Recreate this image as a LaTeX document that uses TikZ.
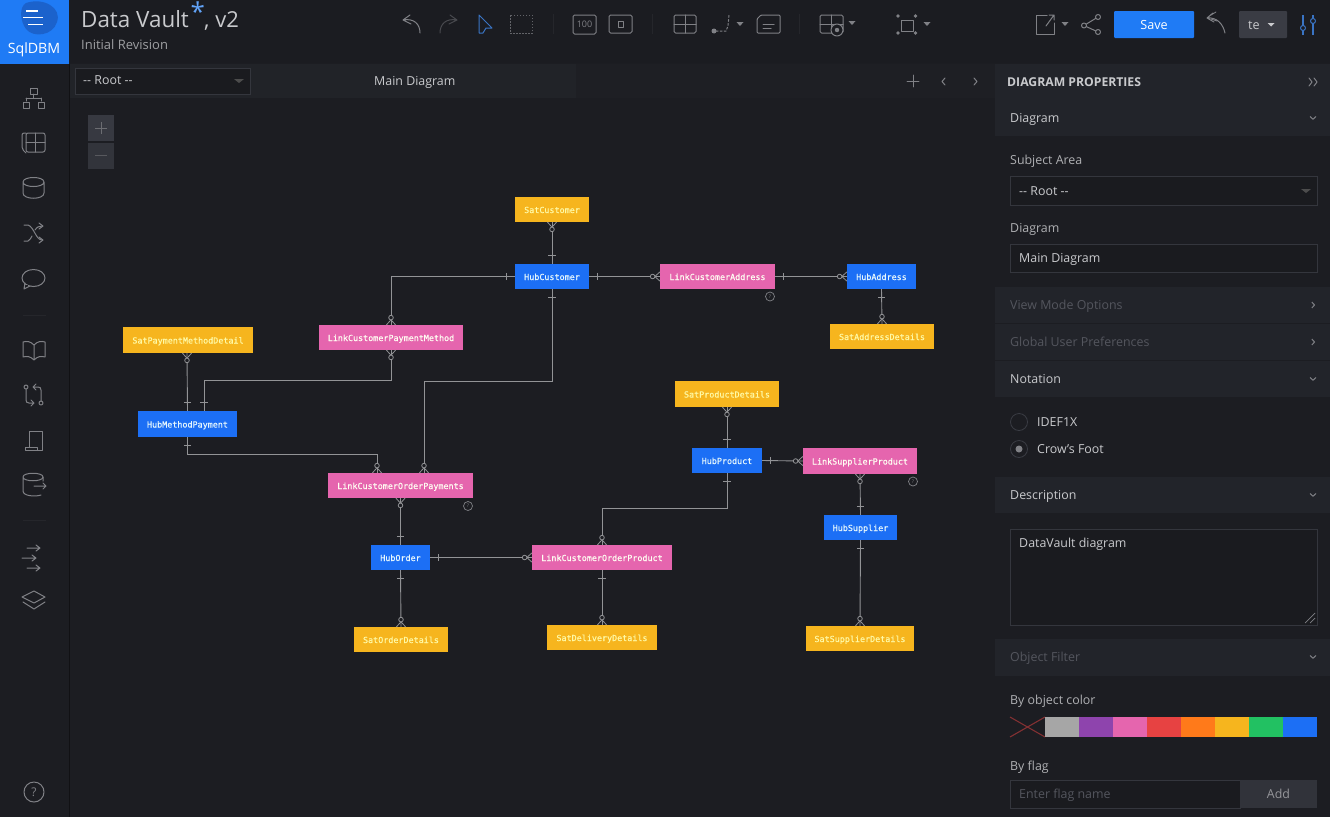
\documentclass[tikz,border=0pt]{standalone}
\usepackage{fontspec}
\setmainfont{Open Sans}
\newfontfamily\entfont[FakeBold=0.35]{DejaVu Sans Mono}
\usetikzlibrary{calc,arrows.meta,shapes.geometric}
\definecolor{bgmain}{HTML}{1C1D22}
\definecolor{bgbar}{HTML}{1B1C21}
\definecolor{bgtab}{HTML}{212328}
\definecolor{bghead}{HTML}{22242A}
\definecolor{bgfield}{HTML}{1A1B1F}
\definecolor{bordr}{HTML}{3A3C44}
\definecolor{fline}{HTML}{34363D}
\definecolor{ink}{HTML}{C9CACD}
\definecolor{inkdim}{HTML}{54565E}
\definecolor{icon}{HTML}{808186}
\definecolor{icondim}{HTML}{48494E}
\definecolor{sepc}{HTML}{25262B}
\definecolor{brand}{HTML}{1F7BF5}
\definecolor{branddk}{HTML}{1B62CC}
\definecolor{iconblue}{HTML}{3A74C4}
\definecolor{hubc}{HTML}{1C6FF5}
\definecolor{satc}{HTML}{F6B51E}
\definecolor{lnkc}{HTML}{E565AE}
\definecolor{relc}{HTML}{929396}
\definecolor{swgray}{HTML}{A6A6A6}
\definecolor{swpurple}{HTML}{8E44AD}
\definecolor{swred}{HTML}{E74242}
\definecolor{sworange}{HTML}{FF7A1A}
\definecolor{swgreen}{HTML}{22C162}
\tikzset{
 ent/.style={draw=none,inner sep=0,font=\entfont\fontsize{8.4}{10}\selectfont,text height=7pt,text depth=0pt,anchor=center},
 hub/.style={ent,fill=hubc,text=white!90!cyan},
 sat/.style={ent,fill=satc,text=white!65!yellow},
 lnk/.style={ent,fill=lnkc,text=white!95!yellow},
 rel/.style={draw=relc,line width=0.9pt},
 crowmany/.pic={\draw[rel,line width=0.8pt] (5,0)--(0,4.5) (5,0)--(0,-4.5);\draw[rel,line width=0.8pt,fill=bgmain] (7.2,0) circle (2.3);},
 onebar/.pic={\draw[rel,line width=0.8pt] (8,-3.7)--(8,3.7);},
 ui/.style={anchor=base west,inner sep=0,text=ink,font=\fontsize{12.4}{15}\selectfont},
 uidim/.style={ui,text=inkdim},
 field/.style={draw=fline,fill=bgfield,line width=0.7pt},
 ic/.style={draw=icon,line width=1pt,line cap=round,line join=round},
 icd/.style={draw=icondim,line width=1pt,line cap=round,line join=round},
 ib/.style={draw=iconblue,line width=1pt,line join=round},
 caret/.style={fill=icon,draw=none},
}
\newcommand{\entity}[7]{\node[#1,minimum width=#4pt,minimum height=#5pt] (#2) at (#3) {#6#7};}
\newcommand{\caretat}[2]{\fill[caret] (#1-3.5,#2-2)--(#1+3.5,#2-2)--(#1,#2+2)--cycle;}
\newcommand{\chevdown}[2]{\draw[draw=icon,line width=1pt] (#1-3,#2-1.5)--(#1,#2+1.2)--(#1+3,#2-1.5);}
\newcommand{\chevright}[2]{\draw[draw=icon,line width=1pt] (#1-1.2,#2-3)--(#1+1.5,#2)--(#1-1.2,#2+3);}
\begin{document}
\begin{tikzpicture}[x=1pt,y=-1pt]
\useasboundingbox (0,0) rectangle (1330,817);
\fill[bgmain] (0,0) rectangle (1330,817);
% bars
\fill[bgbar] (0,0) rectangle (1330,63);
\fill[bgtab] (69,64) rectangle (995,98);
\fill[bgmain!60!bgtab] (576,64) rectangle (995,98);
\draw[draw=black!40!bgmain,line width=0.6pt] (69,64)--(69,817);
\draw[draw=black!40!bgmain,line width=0.6pt] (995,64)--(995,817);
% logo
\fill[brand] (0,0) rectangle (69,64);
\fill[branddk] (26,3) .. controls (44,-3) and (62,8) .. (57,22) .. controls (53,36) and (33,38) .. (26,29) .. controls (20,21) and (19,7) .. (26,3) -- cycle;
\draw[draw=white,line width=1.2pt] (26,11)--(38,11) (23,17.5)--(43,17.5) (28,24.5)--(43,24.5);
\node[anchor=base,inner sep=0,text=white,font=\fontsize{14.2}{16}\selectfont] (logotext) at (34,53) {SqlDBM};
\node[ui,text=ink,font=\fontsize{22.4}{26}\selectfont] (title) at (81,27) {Data Vault};
\node[anchor=base west,inner sep=0,text=brand!70!white,font=\fontsize{26}{26}\selectfont] (star) at (190.5,21) {*};
\node[ui,font=\fontsize{22}{26}\selectfont] (titlev) at (204,27) {, v2};
\node[ui,text=ink!75!bgmain,font=\fontsize{13}{15}\selectfont] (revision) at (81,49) {Initial Revision};
% tab row
\draw[field] (75,68) rectangle (250,94);
\node[ui] (rootA) at (83,84) {-{}- Root -{}-};
\fill[black!70] (234,79)--(244,79)--(239,83)--cycle;
\node[ui] (maintab) at (374,85) {Main Diagram};
\draw[ic,line width=0.9pt] (913,75)--(913,87) (907,81)--(919,81);
\draw[ic] (945,78)--(942,81.5)--(945,85);
\draw[ic] (974,78)--(977,81.5)--(974,85);
% toolbar
\draw[ic] (403,20)--(410,15) (403,20)--(411,24) (403,20) .. controls (414,18) and (420,24) .. (420,33);
\draw[icd] (457,20)--(450,15) (457,20)--(449,24) (457,20) .. controls (446,18) and (440,24) .. (440,33);
\draw[ib] (479,15)--(492,28)--(486,28)--(483,33)--(479,33)--cycle;
\draw[draw=icon!70!bgbar,dash pattern=on 1.5pt off 1.5pt,line width=1pt] (510,15) rectangle (532,33);
\draw[draw=sepc] (553,14)--(553,34);
\draw[ic,rounded corners=1.5pt] (573,15) rectangle (596,34);
\node[anchor=center,inner sep=0,text=icon,font=\fontsize{9}{10}\selectfont] (i100) at (584.5,24.5) {100};
\draw[ic,rounded corners=1.5pt] (609,15) rectangle (632,33);
\draw[ic,line width=0.9pt] (618,21) rectangle (623,27);
\draw[draw=sepc] (652,14)--(652,34);
\draw[ic,rounded corners=1.5pt] (674,15) rectangle (696,33);
\draw[ic] (685,15)--(685,33) (674,24)--(696,24);
\fill[icon] (714,31) circle (2.5);
\draw[ic,dash pattern=on 2pt off 2pt] (716,31)--(726,31)--(728,26)--(729,15);
\caretat{740}{24}
\draw[ic,rounded corners=1pt] (761,15)--(780,15)--(780,33)--(757,33)--(757,19)--cycle;
\draw[ic] (763,24)--(774,24) (763,28)--(771,28);
\draw[draw=sepc] (799,14)--(799,34);
\draw[ic,rounded corners=1.5pt] (820,15) rectangle (843,33);
\draw[ic] (831,15)--(831,33) (820,24)--(843,24);
\draw[ic,fill=bgbar] (837,30) circle (6);
\fill[icon] (837,30) circle (2.2);
\caretat{852}{23}
\draw[ic] (901,20) rectangle (913,31);
\fill[icon] (898,16) circle (1.8) (915.5,16) circle (1.8) (898,33) circle (1.8) (915.5,33) circle (1.8);
\caretat{927}{24}
\draw[ic] (1047,15)--(1036,15)--(1036,34)--(1054,34)--(1054,23);
\draw[ic] (1046,26)--(1054,15) (1049,15)--(1054,15)--(1054,20);
\caretat{1065}{24}
\draw[ic] (1098,17)--(1084,25.5)--(1098,32);
\draw[ic,fill=bgbar] (1098,17) circle (2.5) (1084,25.5) circle (2.5) (1098,32) circle (2.5);
\node[fill=brand,text=white,inner sep=0,minimum width=80pt,minimum height=27pt,rounded corners=1pt,font=\fontsize{12.6}{15}\selectfont] (savebtn) at (1154,24.5) {Save};
\draw[ic] (1207,18)--(1213,13) (1207,18)--(1214,22) (1207,18) .. controls (1217,17) and (1223,24) .. (1225,33);
\draw[ic,line width=0.8pt] (1211,15)--(1216,12) (1211,19)--(1217,21);
\node[fill=bordr,inner sep=0,minimum width=48pt,minimum height=27pt,rounded corners=1pt] (tebtn) at (1263,24.5) {};
\node[ui,font=\fontsize{12.6}{15}\selectfont] (telabel) at (1248,29) {te};
\fill[ink] (1267.5,23)--(1274.5,23)--(1271,26.5)--cycle;
\draw[ib,line width=1.1pt] (1303,15)--(1303,35) (1313,15)--(1313,35);
\draw[ib,fill=bgbar] (1303,28) circle (2.5) (1313,21) circle (2.5);
% sidebar
\draw[ic] (30,88) rectangle (37,94) (33.5,94)--(33.5,98) (26,98)--(41,98) (26,98)--(26,101) (41,98)--(41,101) (23,102) rectangle (29,108) (38,102) rectangle (44,108);
\draw[ic,rounded corners=2pt] (26,133) rectangle (45,152);
\draw[ic] (35.5,133)--(35.5,152) (26,142.5)--(45,142.5);
\draw[ic,rounded corners=2pt] (26,133)--(22,133)--(22,149)--(26,153);
\draw[ic] (23,182) .. controls (23,176) and (44,176) .. (44,182) .. controls (44,188) and (23,188) .. (23,182) -- (23,193) .. controls (23,200) and (44,200) .. (44,193) -- (44,182);
\draw[ic] (24,225)--(28,225) .. controls (34,227) and (36,240) .. (42,240);
\draw[ic] (24,241)--(28,241) .. controls (30,240) and (31,238) .. (32,236) (35,230) .. controls (37,227) and (39,226) .. (42,226);
\draw[ic] (39,223)--(43,226)--(39,229) (39,237)--(43,240)--(39,243);
\draw[ic] (33.5,278) ellipse (11.5 and 8.5);
\fill[bgmain] (24,285) rectangle (28,289);
\draw[ic] (25,283)--(24,289)--(30,286);
\draw[draw=sepc,line width=0.6pt] (23,315)--(46,315) (23,520)--(46,520);
\draw[ic] (34,345)--(34,360) .. controls (30,356) and (27,356) .. (23,357) -- (23,342) .. controls (27,341) and (30,341) .. (34,345) .. controls (38,341) and (41,341) .. (45,342) -- (45,357) .. controls (41,356) and (38,356) .. (34,360);
\draw[ic] (26,387) circle (2) (41,403) circle (2);
\draw[ic] (26,389)--(26,400) .. controls (26,402) and (27,403) .. (29,403) -- (34,403) (31,400)--(34,403)--(31,406);
\draw[ic] (41,401)--(41,390) .. controls (41,388) and (40,387) .. (38,387) -- (33,387) (36,384)--(33,387)--(36,390);
\draw[ic] (29,447)--(29,431)--(42,431)--(42,450)--(25,450)--(25,447)--(37,447)--(37,450);
\draw[ic] (23,477) .. controls (23,472) and (43,472) .. (43,477) .. controls (43,482) and (23,482) .. (23,477) -- (23,491) .. controls (23,496) and (35,497) .. (41,495);
\draw[ic] (43,477)--(43,481) (34,486)--(46,486) (43,483)--(46,486)--(43,489);
\draw[ic] (27,548)--(40,548) (36,545)--(40,548)--(36,551) (22,558)--(36,558) (32,555)--(36,558)--(32,561) (27,568)--(40,568) (36,565)--(40,568)--(36,571);
\draw[ic] (34,591)--(45,597)--(34,603)--(22,597)--cycle;
\draw[ic] (23,602)--(34,609)--(45,602);
\draw[ic] (34,792) circle (10);
\node[anchor=center,inner sep=0,text=icon,font=\fontsize{12}{14}\selectfont] (helpmark) at (34,792) {?};
% zoom buttons
\fill[bordr!90!bgmain] (88,115) rectangle (114,141);
\fill[bordr!75!bgmain] (88,142.5) rectangle (114,169);
\draw[draw=icon!80!bgmain,line width=0.9pt] (95,128)--(107,128) (101,122)--(101,134);
\draw[draw=icon!60!bgmain,line width=0.9pt] (95,155)--(107,155);
% entities
\entity{sat}{SatCustomer}{552,209.5}{74}{25}{}{SatCustomer}
\entity{hub}{HubCustomer}{552,276.5}{74}{25}{}{HubCustomer}
\entity{lnk}{LinkCustomerAddress}{717.5,276.5}{115}{25}{}{LinkCustomerAddress}
\entity{hub}{HubAddress}{881.5,276.5}{69}{25}{}{HubAddress}
\entity{sat}{SatAddressDetails}{882,336.5}{104}{25}{}{SatAddressDetails}
\entity{lnk}{LinkCustomerPaymentMethod}{391,337.5}{144}{25}{}{LinkCustomerPaymentMethod}
\entity{sat}{SatPaymentMethodDetail}{188,340}{130}{26}{}{SatPaymentMethodDetail}
\entity{hub}{HubMethodPayment}{187.5,424}{99}{26}{}{HubMethodPayment}
\entity{lnk}{LinkCustomerOrderPayments}{400.5,485.5}{145}{25}{}{LinkCustomerOrderPayments}
\entity{sat}{SatProductDetails}{727,394}{104}{26}{}{SatProductDetails}
\entity{hub}{HubProduct}{727,460.5}{70}{25}{}{HubProduct}
\entity{lnk}{LinkSupplierProduct}{860,461}{114}{26}{}{LinkSupplierProduct}
\entity{hub}{HubSupplier}{860.5,527.5}{73}{25}{}{HubSupplier}
\entity{hub}{HubOrder}{400.5,557.5}{59}{25}{}{HubOrder}
\entity{lnk}{LinkCustomerOrderProduct}{602,557.5}{140}{25}{}{LinkCustomerOrderProduct}
\entity{sat}{SatOrderDetails}{401,639.5}{94}{25}{}{SatOrderDetails}
\entity{sat}{SatDeliveryDetails}{602,637.5}{110}{25}{}{SatDeliveryDetails}
\entity{sat}{SatSupplierDetails}{860,638.5}{108}{25}{}{SatSupplierDetails}
% note markers
\node[circle,draw=icon,line width=0.7pt,inner sep=0,minimum size=9pt,text=icon,font=\fontsize{5}{5}\selectfont] (noteA) at (770,296.5) {?};
\node[circle,draw=icon,line width=0.7pt,inner sep=0,minimum size=9pt,text=icon,font=\fontsize{5}{5}\selectfont] (noteB) at (468,506) {?};
\node[circle,draw=icon,line width=0.7pt,inner sep=0,minimum size=9pt,text=icon,font=\fontsize{5}{5}\selectfont] (noteC) at (913,481.5) {?};
% connectors
\draw[rel] (SatCustomer.south)--(HubCustomer.north);
\pic[rotate=270] at (SatCustomer.south) {crowmany};
\pic[rotate=90] at (HubCustomer.north) {onebar};
\draw[rel] (HubCustomer.west) -| (LinkCustomerPaymentMethod.north);
\pic[rotate=180] at (HubCustomer.west) {onebar};
\pic[rotate=90] at (LinkCustomerPaymentMethod.north) {crowmany};
\draw[rel] (LinkCustomerPaymentMethod.south) -- ++(0,30.5) -| ([xshift=16.5pt]HubMethodPayment.north);
\pic[rotate=270] at (LinkCustomerPaymentMethod.south) {crowmany};
\pic[rotate=90] at ([xshift=16.5pt]HubMethodPayment.north) {onebar};
\draw[rel] ([xshift=-1pt]SatPaymentMethodDetail.south)--(HubMethodPayment.north);
\pic[rotate=270] at ([xshift=-1pt]SatPaymentMethodDetail.south) {crowmany};
\pic[rotate=90] at (HubMethodPayment.north) {onebar};
\draw[rel] (HubMethodPayment.south) -- ++(0,17.5) -| ([xshift=-23.5pt]LinkCustomerOrderPayments.north);
\pic[rotate=270] at (HubMethodPayment.south) {onebar};
\pic[rotate=90] at ([xshift=-23.5pt]LinkCustomerOrderPayments.north) {crowmany};
\draw[rel] (HubCustomer.south) -- ++(0,92) -| ([xshift=23.5pt]LinkCustomerOrderPayments.north);
\pic[rotate=270] at (HubCustomer.south) {onebar};
\pic[rotate=90] at ([xshift=23.5pt]LinkCustomerOrderPayments.north) {crowmany};
\draw[rel] (HubCustomer.east)--(LinkCustomerAddress.west);
\pic at (HubCustomer.east) {onebar};
\pic[rotate=180] at (LinkCustomerAddress.west) {crowmany};
\draw[rel] (LinkCustomerAddress.east)--(HubAddress.west);
\pic at (LinkCustomerAddress.east) {onebar};
\pic[rotate=180] at (HubAddress.west) {crowmany};
\draw[rel] (HubAddress.south)--(SatAddressDetails.north);
\pic[rotate=270] at (HubAddress.south) {onebar};
\pic[rotate=90] at (SatAddressDetails.north) {crowmany};
\draw[rel] (SatProductDetails.south)--(HubProduct.north);
\pic[rotate=270] at (SatProductDetails.south) {crowmany};
\pic[rotate=90] at (HubProduct.north) {onebar};
\draw[rel] (HubProduct.east)--(LinkSupplierProduct.west);
\pic at (HubProduct.east) {onebar};
\pic[rotate=180] at (LinkSupplierProduct.west) {crowmany};
\draw[rel] (HubProduct.south) -- ++(0,35.5) -| (LinkCustomerOrderProduct.north);
\pic[rotate=270] at (HubProduct.south) {onebar};
\pic[rotate=90] at (LinkCustomerOrderProduct.north) {crowmany};
\draw[rel] (LinkSupplierProduct.south)--(HubSupplier.north);
\pic[rotate=270] at (LinkSupplierProduct.south) {crowmany};
\pic[rotate=90] at (HubSupplier.north) {onebar};
\draw[rel] (HubSupplier.south)--(SatSupplierDetails.north);
\pic[rotate=270] at (HubSupplier.south) {onebar};
\pic[rotate=90] at (SatSupplierDetails.north) {crowmany};
\draw[rel] (LinkCustomerOrderPayments.south)--(HubOrder.north);
\pic[rotate=270] at (LinkCustomerOrderPayments.south) {crowmany};
\pic[rotate=90] at (HubOrder.north) {onebar};
\draw[rel] (HubOrder.east)--(LinkCustomerOrderProduct.west);
\pic at (HubOrder.east) {onebar};
\pic[rotate=180] at (LinkCustomerOrderProduct.west) {crowmany};
\draw[rel] (HubOrder.south)--(SatOrderDetails.north);
\pic[rotate=270] at (HubOrder.south) {onebar};
\pic[rotate=90] at (SatOrderDetails.north) {crowmany};
\draw[rel] (LinkCustomerOrderProduct.south)--(SatDeliveryDetails.north);
\pic[rotate=270] at (LinkCustomerOrderProduct.south) {onebar};
\pic[rotate=90] at (SatDeliveryDetails.north) {crowmany};
% right panel
\fill[bgmain] (995,64) rectangle (1330,817);
\fill[bghead] (995,64) rectangle (1330,100);
\node[ui,font=\fontsize{12.2}{15}\selectfont\bfseries] (panelhead) at (1007,86) {DIAGRAM PROPERTIES};
\draw[ic] (1309,78)--(1312,82)--(1309,86) (1314,78)--(1317,82)--(1314,86);
\fill[bghead] (995,100) rectangle (1330,136);
\fill[bghead] (995,287) rectangle (1330,323);
\fill[bghead] (995,324) rectangle (1330,360);
\fill[bghead] (995,361) rectangle (1330,397);
\fill[bghead] (995,477) rectangle (1330,513);
\fill[bghead] (995,639) rectangle (1330,676);
\node[ui] (secdiagram) at (1010,122.5) {Diagram};
\chevdown{1313}{118}
\node[ui,text=ink!85!bgmain] (subject) at (1010,164.5) {Subject Area};
\draw[field] (1010,176) rectangle (1317,205);
\node[ui] (rootB) at (1019,195) {-{}- Root -{}-};
\fill[black!70] (1301,189)--(1311,189)--(1306,193)--cycle;
\node[ui,text=ink!85!bgmain] (lbldiagram) at (1010,232) {Diagram};
\draw[field] (1010,244) rectangle (1317,272);
\node[ui] (mainfield) at (1019,262.5) {Main Diagram};
\node[uidim] (viewmode) at (1010,309.5) {View Mode Options};
\chevright{1313}{305}
\node[uidim] (globalpref) at (1010,346.5) {Global User Preferences};
\chevright{1313}{342}
\node[ui] (notation) at (1010,383.5) {Notation};
\chevdown{1313}{379}
\node[circle,draw=bordr,line width=0.8pt,minimum size=17pt,inner sep=0] (radioA) at (1019,422) {};
\node[ui] (idef) at (1037,426.5) {IDEF1X};
\node[circle,draw=bordr,line width=0.8pt,minimum size=17pt,inner sep=0] (radioB) at (1019,449) {};
\fill[icon] (radioB.center) circle (3.5);
\node[ui] (crow) at (1037,453.5) {Crow's Foot};
\node[ui] (descr) at (1010,499.5) {Description};
\chevdown{1313}{495}
\draw[field] (1010,529) rectangle (1317,625);
\node[ui] (descval) at (1019,547) {DataVault diagram};
\draw[icon,line width=0.7pt] (1305,623)--(1315,613) (1310,623)--(1315,618);
\node[uidim] (objfilter) at (1010,661.5) {Object Filter};
\chevdown{1313}{657}
\node[ui,text=ink!85!bgmain] (bycolor) at (1010,704) {By object color};
\draw[draw=swred!50!bgmain,line width=1.1pt] (1010,717)--(1045,737) (1010,737)--(1045,717);
\fill[swgray] (1045,717) rectangle (1079,737);
\fill[swpurple] (1079,717) rectangle (1113,737);
\fill[lnkc] (1113,717) rectangle (1147,737);
\fill[swred] (1147,717) rectangle (1181,737);
\fill[sworange] (1181,717) rectangle (1215,737);
\fill[satc] (1215,717) rectangle (1249,737);
\fill[swgreen] (1249,717) rectangle (1283,737);
\fill[hubc] (1283,717) rectangle (1317,737);
\node[ui,text=ink!85!bgmain] (byflag) at (1010,770) {By flag};
\draw[field] (1010,780) rectangle (1240,808);
\node[uidim] (flagph) at (1019,798.5) {Enter flag name};
\node[fill=bordr!70!bgmain,text=ink!70!bgmain,inner sep=0,minimum width=77pt,minimum height=28pt,font=\fontsize{12.4}{15}\selectfont] (addbtn) at (1278.5,794) {Add};
\end{tikzpicture}
\end{document}
